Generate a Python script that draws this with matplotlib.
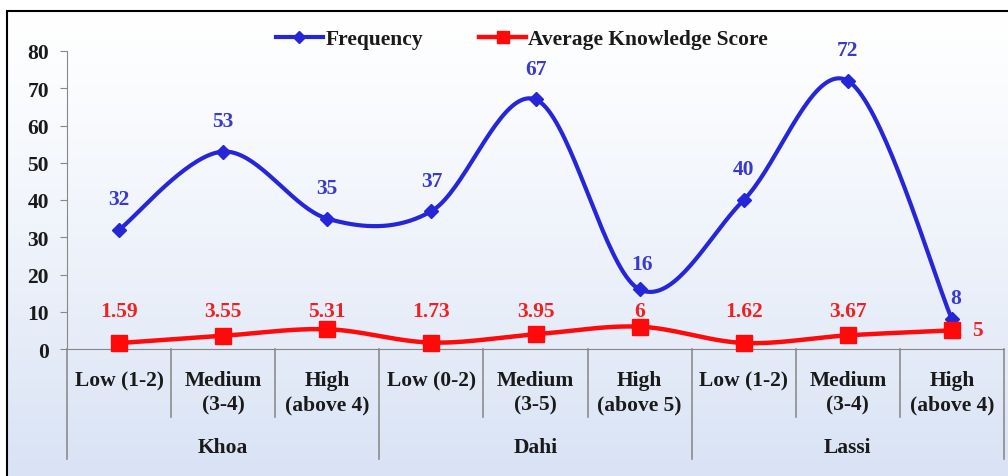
import numpy as np
import matplotlib.pyplot as plt
from matplotlib.patches import Rectangle
from matplotlib.lines import Line2D

plt.rcParams['font.family'] = ['Liberation Serif', 'DejaVu Serif']
plt.rcParams['font.weight'] = 'bold'

# data
levels = ['Low (1-2)', 'Medium\n(3-4)', 'High\n(above 4)',
          'Low (0-2)', 'Medium\n(3-5)', 'High\n(above 5)',
          'Low (1-2)', 'Medium\n(3-4)', 'High\n(above 4)']
products = ['Khoa', 'Dahi', 'Lassi']
frequency = [32, 53, 35, 37, 67, 16, 40, 72, 8]
avg_score = [1.59, 3.55, 5.31, 1.73, 3.95, 6, 1.62, 3.67, 5]
score_labels = ['1.59', '3.55', '5.31', '1.73', '3.95', '6', '1.62', '3.67', '5']

BLUE = '#2626d9'
BLUE_TXT = '#3a3ad0'
RED = '#ff0a0a'
RED_TXT = '#ee2222'
FS = 15.5


def smooth(y, n=40):
    # excel-like smoothed line (cardinal bezier)
    y = np.asarray(y, dtype=float)
    x = np.arange(len(y), dtype=float)
    pts = np.column_stack([x, y])
    out = []
    t = np.linspace(0, 1, n)[:, None]
    for i in range(len(pts) - 1):
        p0 = pts[max(i - 1, 0)]
        p1 = pts[i]
        p2 = pts[i + 1]
        p3 = pts[min(i + 2, len(pts) - 1)]
        c1 = p1 + (p2 - p0) / 6
        c2 = p2 - (p3 - p1) / 6
        seg = ((1 - t) ** 3) * p1 + 3 * ((1 - t) ** 2) * t * c1 + 3 * (1 - t) * t ** 2 * c2 + t ** 3 * p2
        out.append(seg)
    out = np.vstack(out)
    return out[:, 0], out[:, 1]


W, H = 1008, 477
fig = plt.figure(figsize=(W / 100, H / 100), dpi=100)

# background gradient
bg = fig.add_axes([0, 0, 1, 1], zorder=-10)
g = np.linspace(0, 1, 200)
top = np.array([1.0, 1.0, 1.0])
bot = np.array([0.85, 0.89, 0.96])
img = top[None, None, :] * (1 - g[:, None, None] ** 1.2) + bot[None, None, :] * (g[:, None, None] ** 1.2)
img = np.repeat(img, 2, axis=1)
bg.imshow(img, aspect='auto', extent=[7 / W, 1.0, 0, 1 - 12 / H])
bg.set_xlim(0, 1)
bg.set_ylim(0, 1)
bg.axis('off')
bg.add_patch(Rectangle((7 / W, -0.05), 1.1, 1 - 12 / H + 0.05, fill=False,
                       edgecolor='black', lw=1.5))

x0, x1 = 67, 1004
y0, y1 = 350, 52
ax = fig.add_axes([x0 / W, (H - y0) / H, (x1 - x0) / W, (y0 - y1) / H])
ax.set_facecolor('none')
ax.set_xlim(-0.5, 8.5)
ax.set_ylim(0, 80)
ax.set_yticks(range(0, 81, 10))
ax.tick_params(axis='y', labelsize=FS, length=5, color='#888888', pad=8)
ax.set_xticks([])
for s in ['top', 'right']:
    ax.spines[s].set_visible(False)
ax.spines['left'].set_color('#888888')
ax.spines['bottom'].set_color('#888888')
for lab in ax.get_yticklabels():
    lab.set_fontweight('bold')
    lab.set_color('#1a1a1a')

idx = np.arange(len(levels))

xs, ys = smooth(frequency)
ax.plot(xs, ys, color=BLUE, lw=3, zorder=3, clip_on=False)
ax.plot(idx, frequency, ls='none', marker='D', ms=7, color=BLUE, zorder=4, clip_on=False)

xs, ys = smooth(avg_score)
ax.plot(xs, ys, color=RED, lw=3.2, zorder=5, clip_on=False)
ax.plot(idx, avg_score, ls='none', marker='s', ms=11, color=RED, zorder=6, clip_on=False)

# data labels
for i, v in enumerate(frequency):
    dx, dy = 0, 22
    if i == 5:
        dx, dy = 2, 18
    if i == len(frequency) - 1:
        dx, dy = 3, 15
    ax.annotate(str(v), (i, v), xytext=(dx, dy), textcoords='offset points',
                ha='center', va='center', fontsize=FS, color=BLUE_TXT,
                fontweight='bold', zorder=7)

trans_lab = ax.get_xaxis_transform()
for i, lab in enumerate(score_labels):
    if i == len(score_labels) - 1:
        ax.annotate(lab, (i, avg_score[i]), xytext=(18, 0), textcoords='offset points',
                    ha='center', va='center', fontsize=FS, color=RED_TXT,
                    fontweight='bold', zorder=7, annotation_clip=False)
    else:
        ax.text(i, 38 / 298, lab, transform=trans_lab, ha='center', va='center',
                fontsize=FS, color=RED_TXT, fontweight='bold', zorder=7)

# multi-level category axis
sep_col = '#8c8c8c'
for k in range(len(levels) + 1):
    xb = k - 0.5
    depth = -110 / 298 if k % 3 == 0 else -68 / 298
    ax.plot([xb, xb], [0, depth], transform=trans_lab, color=sep_col, lw=1.2,
            clip_on=False)
for i, lab in enumerate(levels):
    ax.text(i, -21 / 298, lab, transform=trans_lab, ha='center', va='top',
            fontsize=FS, color='#1a1a1a', fontweight='bold', linespacing=1.3)
for j, p in enumerate(products):
    ax.text(3 * j + 1, -98 / 298, p, transform=trans_lab, ha='center', va='center',
            fontsize=FS, color='#1a1a1a', fontweight='bold')

# legend
handles = [Line2D([], [], color=BLUE, lw=3, marker='D', ms=6),
           Line2D([], [], color=RED, lw=3.2, marker='s', ms=9)]
fig.legend(handles, ['Frequency', 'Average Knowledge Score'], ncol=2,
           loc='center', bbox_to_anchor=(522 / W, 1 - 40 / H), frameon=False,
           prop={'size': FS, 'weight': 'bold'}, handlelength=2.2,
           handletextpad=0.1, columnspacing=2.6, labelcolor='#1a1a1a')

fig.savefig('out.png', dpi=100)
